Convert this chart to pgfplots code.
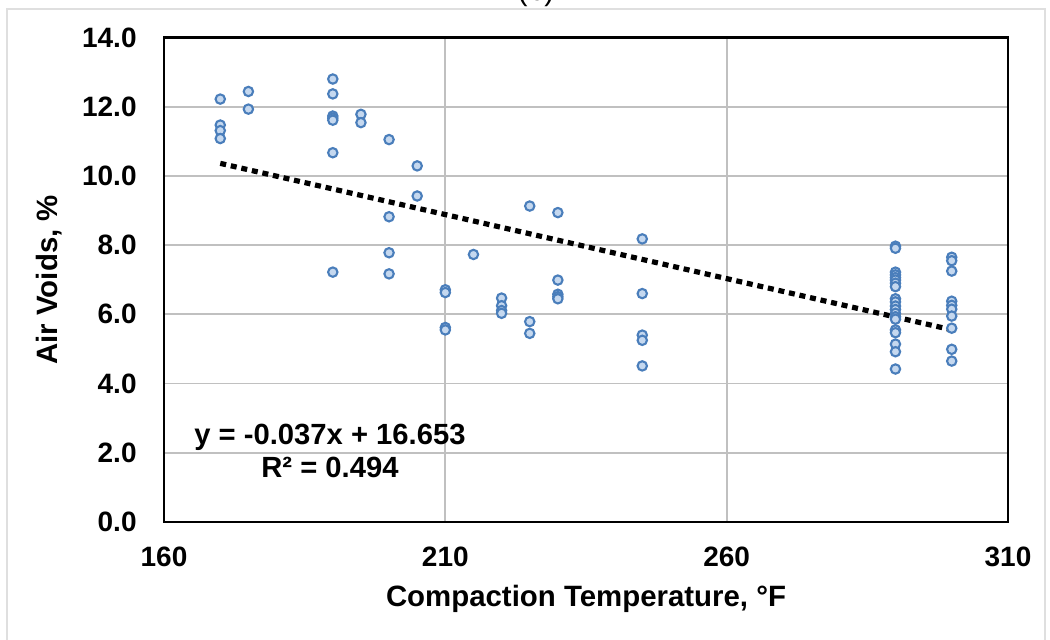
\documentclass[border=0pt]{standalone}
\usepackage{fontspec}
\setmainfont{Liberation Sans}
\usepackage{pgfplots}
\pgfplotsset{compat=1.18}
\definecolor{mkedge}{HTML}{4A7EBB}
\definecolor{mkfill}{HTML}{C5D8EF}
\definecolor{gridc}{HTML}{C0C0C0}
\begin{document}
\begin{tikzpicture}
\path[use as bounding box] (-82pt,-59pt) rectangle (443pt,261pt);
\draw[gray!25, line width=1pt] (-78.5pt,-70pt) -- (-78.5pt,256.5pt) -- (440.5pt,256.5pt) -- (440.5pt,-70pt);
\node[anchor=base, inner sep=0pt, font=\fontsize{15}{16}\selectfont] at (186pt,260.8pt) {(b)};
\begin{axis}[
  at={(0,0)}, anchor=south west,
  scale only axis, width=422pt, height=242.25pt,
  xmin=160, xmax=310, ymin=0, ymax=14,
  xtick={160,210,260,310}, ytick={0,2,...,14},
  major tick length=0pt,
  grid=major,
  major grid style={gridc, line width=0.9pt},
  axis line style={black, line width=1.2pt},
  /pgf/number format/assume math mode=true,
  yticklabel style={/pgf/number format/fixed, /pgf/number format/fixed zerofill, /pgf/number format/precision=1},
  yticklabel style={font=\fontsize{14}{16}\selectfont\bfseries, anchor=east, inner sep=0pt, xshift=-13.5pt},
  xticklabel style={font=\fontsize{14}{16}\selectfont\bfseries, anchor=north, inner sep=0pt, yshift=-12.5pt},
  scaled ticks=false,
  clip=false,
]
\addplot[only marks, mark=*, mark size=2.35pt, mark options={draw=mkedge, fill=mkfill, line width=1.05pt}] table {
x y
170 12.22
170 11.47
170 11.31
170 11.08
175 12.44
175 11.93
190 12.80
190 12.37
190 11.73
190 11.67
190 11.61
190 10.67
190 7.22
195 11.78
195 11.54
200 11.05
200 8.82
200 7.78
200 7.17
205 10.29
205 9.42
210 6.71
210 6.63
210 5.62
210 5.55
215 7.73
220 6.47
220 6.25
220 6.11
220 6.03
225 9.13
225 5.79
225 5.45
230 8.94
230 6.99
230 6.58
230 6.51
230 6.45
245 8.18
245 6.60
245 5.40
245 5.25
245 4.51
290 7.97
290 7.91
290 7.22
290 7.14
290 7.06
290 6.99
290 6.90
290 6.80
290 6.45
290 6.36
290 6.24
290 6.14
290 6.03
290 5.93
290 5.86
290 5.55
290 5.47
290 5.14
290 4.92
290 4.42
300 7.65
300 7.55
300 7.25
300 6.38
300 6.26
300 6.15
300 5.95
300 5.60
300 4.99
300 4.65
};
\addplot[black, line width=2.6pt, dash pattern=on 3pt off 2.4pt] coordinates {(170,10.363) (300,5.553)};
\node[anchor=base, font=\fontsize{14.6}{16}\selectfont\bfseries] at (axis cs:189.5,2.23) {y = -0.037x + 16.653};
\node[anchor=base, font=\fontsize{14.6}{16}\selectfont\bfseries] at (axis cs:189.5,1.28) {R² = 0.494};
\end{axis}
\node[anchor=base, font=\fontsize{14.7}{16}\selectfont\bfseries] at (211pt,-42.5pt) {Compaction Temperature, °F};
\node[anchor=base, rotate=90, font=\fontsize{14.7}{16}\selectfont\bfseries] at (-53pt,121.1pt) {Air Voids, \%};
\end{tikzpicture}
\end{document}
